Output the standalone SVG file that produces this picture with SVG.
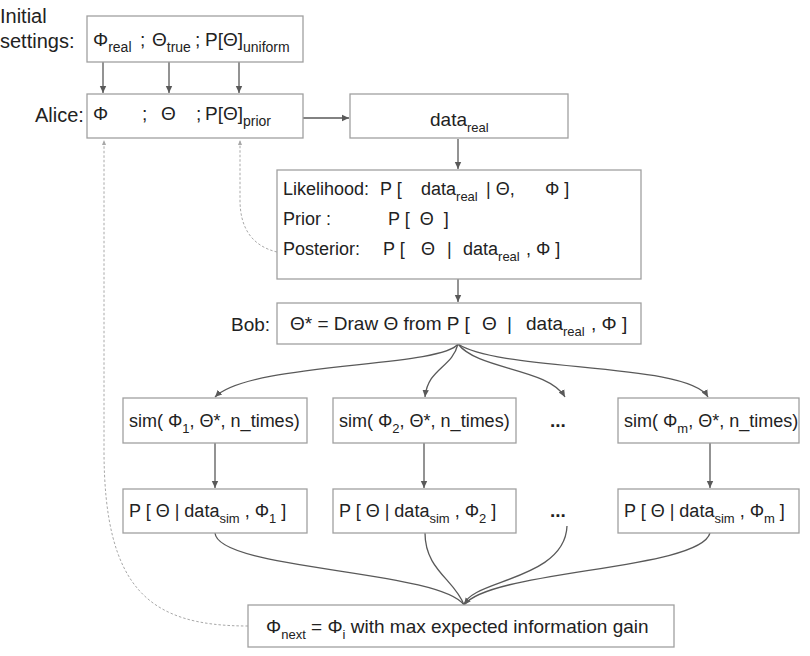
<svg xmlns="http://www.w3.org/2000/svg" width="810" height="656" viewBox="0 0 810 656">
<defs>
<style>
text{font-family:"Liberation Sans",Arial,sans-serif;font-size:19px;fill:#222;white-space:pre}
.sub{font-size:13px}
.sub14{font-size:14px}
.s18{font-size:18px}
.lab{font-size:20px}
.box{fill:#fff;stroke:#a0a0a0;stroke-width:1.3}
.c{fill:none;stroke:#595959;stroke-width:1.3}
.d{fill:none;stroke:#a8a8a8;stroke-width:1;stroke-dasharray:2.5,2}
</style>
<marker id="a" markerWidth="8" markerHeight="8" refX="7" refY="4" orient="auto" markerUnits="userSpaceOnUse"><path d="M0,0.8 L7,4 L0,7.2 z" fill="#595959"/></marker>
<marker id="ad" markerWidth="6" markerHeight="6" refX="5" refY="3" orient="auto" markerUnits="userSpaceOnUse"><path d="M0,1 L5,3 L0,5 z" fill="#a8a8a8"/></marker>
</defs>
<rect width="810" height="656" fill="#fff"/>
<g id="labels">
<text class="lab" x="0" y="23">Initial</text>
<text class="lab" x="0" y="48">settings:</text>
<text class="lab" x="35" y="122">Alice:</text>
<text x="231" y="331">Bob:</text>
</g>
<g id="connectors">
<line class="c" x1="103" y1="62" x2="103" y2="93" marker-end="url(#a)"/>
<line class="c" x1="169" y1="62" x2="169" y2="93" marker-end="url(#a)"/>
<line class="c" x1="239" y1="62" x2="239" y2="93" marker-end="url(#a)"/>
<line class="c" x1="303" y1="118" x2="349" y2="118" marker-end="url(#a)"/>
<line class="c" x1="458" y1="139" x2="458" y2="169" marker-end="url(#a)"/>
<line class="c" x1="458" y1="279" x2="458" y2="302" marker-end="url(#a)"/>
<path class="c" d="M458,344 C440,368 250,362 215,397" marker-end="url(#a)"/>
<path class="c" d="M458,344 C452,368 428,368 425,397" marker-end="url(#a)"/>
<path class="c" d="M458,344 C478,370 548,368 565,397" marker-end="url(#a)"/>
<path class="c" d="M458,344 C500,372 688,362 708,397" marker-end="url(#a)"/>
<line class="c" x1="215" y1="443" x2="215" y2="488" marker-end="url(#a)"/>
<line class="c" x1="424" y1="443" x2="424" y2="488" marker-end="url(#a)"/>
<line class="c" x1="710" y1="443" x2="710" y2="488" marker-end="url(#a)"/>
<path class="c" d="M215,533 C218,570 440,570 464,605"/>
<path class="c" d="M425,533 C425,570 455,580 464,605"/>
<path class="c" d="M567,526 C565,580 470,580 464,605"/>
<path class="c" d="M710,533 C700,570 490,570 464,605" marker-end="url(#a)"/>
<path class="d" d="M248,626 C150,626 104,590 104,450 L104,140" marker-end="url(#ad)"/>
<path class="d" d="M277,252 C252,246 240,228 240,200 L240,140" marker-end="url(#ad)"/>
</g>
<g id="initial">
<rect class="box" x="87" y="16" width="216" height="46"/>
<text x="93" y="46">Φ<tspan class="sub14" dy="6">real</tspan><tspan x="140" dy="-6">;</tspan><tspan x="152">Θ</tspan><tspan class="sub14" dy="6">true</tspan><tspan x="195" dy="-6">;</tspan><tspan x="205">P[Θ]</tspan><tspan class="sub14" dy="6">uniform</tspan></text>
</g>
<g id="alice">
<rect class="box" x="87" y="94" width="216" height="44"/>
<text x="93" y="120">Φ<tspan x="142">;</tspan><tspan x="161">Θ</tspan><tspan x="196">;</tspan><tspan x="205">P[Θ]</tspan><tspan class="sub14" dy="6">prior</tspan></text>
</g>
<g id="data_real">
<rect class="box" x="350" y="94" width="218" height="44"/>
<text x="430" y="126">data<tspan class="sub" dy="6">real</tspan></text>
</g>
<g id="posterior">
<rect class="box" x="277" y="170" width="364" height="109"/>
<text class="s18" x="283" y="195">Likelihood:<tspan x="380">P [</tspan><tspan x="421">data</tspan><tspan class="sub" dy="6">real</tspan><tspan x="486" dy="-6">| Θ,</tspan><tspan x="545">Φ ]</tspan></text>
<text class="s18" x="283" y="225">Prior :<tspan x="388">P [  Θ  ]</tspan></text>
<text class="s18" x="283" y="255">Posterior:<tspan x="383">P [</tspan><tspan x="421">Θ</tspan><tspan x="447">|</tspan><tspan x="463">data</tspan><tspan class="sub" dy="6">real</tspan><tspan x="526" dy="-6">, Φ ]</tspan></text>
</g>
<g id="bob">
<rect class="box" x="277" y="303" width="364" height="41"/>
<text x="290" y="330">Θ* = Draw Θ from P [<tspan x="482">Θ</tspan><tspan x="507">|</tspan><tspan x="526">data</tspan><tspan class="sub" dy="6">real</tspan><tspan x="591" dy="-6">, Φ ]</tspan></text>
</g>
<g id="sim1">
<rect class="box" x="123" y="398" width="184" height="45"/>
<text class="s18" x="129" y="427">sim( Φ<tspan class="sub" dy="6">1</tspan><tspan dy="-6">, Θ*, n_times)</tspan></text>
</g>
<g id="sim2">
<rect class="box" x="333" y="398" width="183" height="45"/>
<text class="s18" x="339" y="427">sim( Φ<tspan class="sub" dy="6">2</tspan><tspan dy="-6">, Θ*, n_times)</tspan></text>
</g>
<g id="dots1"><text x="550" y="427" font-weight="bold">...</text></g>
<g id="simm">
<rect class="box" x="618" y="398" width="181" height="45"/>
<text class="s18" x="624" y="427">sim( Φ<tspan class="sub" dy="6">m</tspan><tspan dy="-6">, Θ*, n_times)</tspan></text>
</g>
<g id="p1">
<rect class="box" x="123" y="489" width="184" height="44"/>
<text class="s18" x="129" y="517">P [ Θ | data<tspan class="sub" dy="6">sim</tspan><tspan dy="-6"> , Φ</tspan><tspan class="sub" dy="6">1</tspan><tspan dy="-6"> ]</tspan></text>
</g>
<g id="p2">
<rect class="box" x="333" y="489" width="183" height="44"/>
<text class="s18" x="339" y="517">P [ Θ | data<tspan class="sub" dy="6">sim</tspan><tspan dy="-6"> , Φ</tspan><tspan class="sub" dy="6">2</tspan><tspan dy="-6"> ]</tspan></text>
</g>
<g id="dots2"><text x="550" y="517" font-weight="bold">...</text></g>
<g id="pm">
<rect class="box" x="618" y="489" width="181" height="44"/>
<text class="s18" x="624" y="517">P [ Θ | data<tspan class="sub" dy="6">sim</tspan><tspan dy="-6"> , Φ</tspan><tspan class="sub" dy="6">m</tspan><tspan dy="-6"> ]</tspan></text>
</g>
<g id="phinext">
<rect class="box" x="248" y="605" width="426" height="42"/>
<text x="266" y="633">Φ<tspan class="sub" dy="6">next</tspan><tspan dy="-6"> = Φ</tspan><tspan class="sub" dy="6">i</tspan><tspan dy="-6"> with max expected information gain</tspan></text>
</g>
</svg>
